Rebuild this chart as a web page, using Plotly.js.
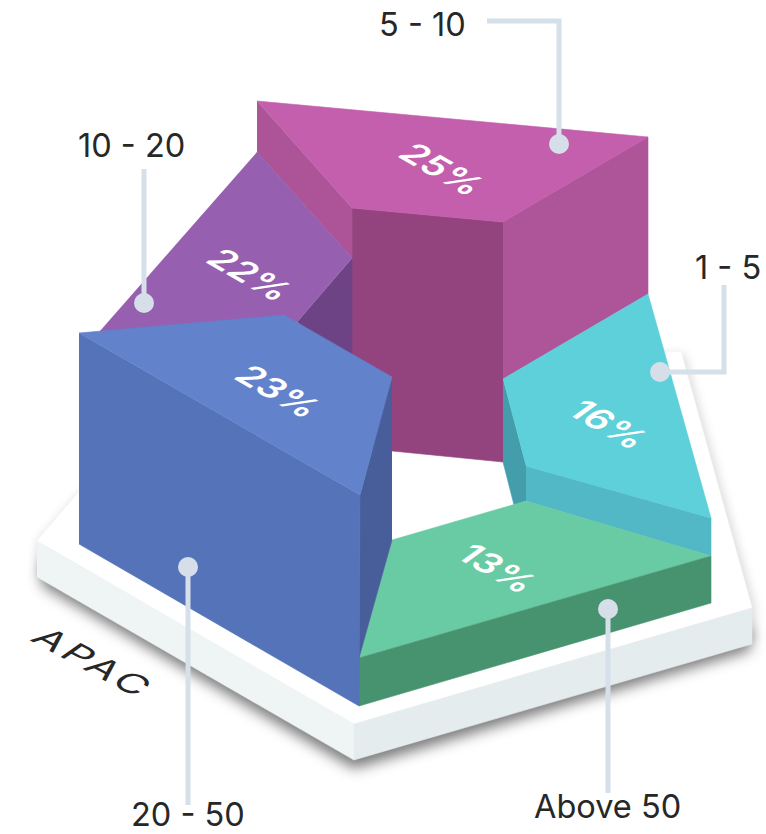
<!DOCTYPE html>
<html>
<head>
<meta charset="utf-8">
<script src="https://cdn.plot.ly/plotly-3.0.1.min.js"></script>
<style>html,body{margin:0;padding:0;background:#fff}#chart{width:766px;height:834px}</style>
</head>
<body>
<div id="chart"></div>
<script>
// Share of respondents per band, APAC region
const bands = ['1 - 5', '5 - 10', '10 - 20', '20 - 50', 'Above 50'];
const shares = [16, 25, 22, 23, 13];
const regionName = 'APAC';

// Outlines of the block faces, in chart units
const plateTopX = [37, 79, 660, 681, 752, 354, 37];
const plateTopY = [541, 492, 352, 352, 608, 724, 541];
const plateLeftX = [37, 354, 354, 37];
const plateLeftY = [541, 724, 760, 577];
const plateRightX = [354, 752, 752, 354];
const plateRightY = [724, 608, 644, 760];

// Shadow shapes that sit under the plate
const shadowBackX = [37, 79, 660, 684, 755, 755, 37];
const shadowBackY = [543, 494, 354, 354, 608, 640, 577];
const shadowLowX = [42, 354, 750, 750, 354, 42];
const shadowLowY = [560, 745, 628, 650, 768, 585];

const magentaFrontX = [352, 503, 503, 352];
const magentaFrontY = [208, 222, 462, 447];
const magentaRightX = [503, 648, 648, 503];
const magentaRightY = [222, 137, 294, 379];
const magentaLeftX = [257, 352, 352, 257];
const magentaLeftY = [101, 208, 258, 152];
const magentaTopX = [257, 648, 503, 352];
const magentaTopY = [101, 137, 222, 208];

const purpleInnerX = [352, 352, 297];
const purpleInnerY = [258, 362, 322];
const purpleTopX = [257, 352, 297, 282, 100];
const purpleTopY = [152, 258, 322, 330, 331];

const cyanInnerX = [503, 526, 526, 514, 503];
const cyanInnerY = [379, 466, 501, 505, 462];
const cyanFrontX = [526, 711, 711, 526];
const cyanFrontY = [466, 518, 556, 501];
const cyanTopX = [503, 648, 711, 526];
const cyanTopY = [379, 294, 518, 466];

const greenTopX = [359, 392, 526, 711];
const greenTopY = [658, 540, 501, 556];
const greenFrontX = [359, 711, 711, 359];
const greenFrontY = [658, 556, 603, 706];

const blueInnerX = [392, 360, 359, 392];
const blueInnerY = [377, 495, 658, 540];
const blueFrontX = [79, 360, 359, 79];
const blueFrontY = [333, 495, 706, 544];
const blueTopX = [79, 284, 392, 360];
const blueTopY = [333, 315, 377, 495];

// Leader lines and their end dots
const leaderX = {a: [487, 559, 559], b: [144, 144], c: [724, 724, 660], d: [188, 188], e: [608, 608]};
const leaderY = {a: [21, 21, 144], b: [169, 303], c: [285, 372, 372], d: [805, 567], e: [793, 609]};
const dotX = [559, 144, 660, 188, 608];
const dotY = [144, 303, 372, 567, 609];

// Text positions
const bandLabelX = [728, 422, 131, 188, 607];
const bandLabelY = [267, 24, 145, 814, 806];
const shareLabelX = [609, 443, 250, 279, 498];
const shareLabelY = [424, 169, 274, 391, 568];
const regionLabelX = 94;
const regionLabelY = 662;

const traces = [];
function face(x, y, color) {
  traces.push({type: 'scatter', mode: 'lines', x: x, y: y, fill: 'toself',
    fillcolor: color, line: {color: color, width: 0.6}, hoverinfo: 'skip', showlegend: false});
}

face(shadowBackX, shadowBackY, 'rgba(0,0,0,0.14)');
face(shadowLowX, shadowLowY, 'rgba(30,30,30,0.6)');
const softTraces = [[0, 5], [1, 7]];

face(plateTopX, plateTopY, '#ffffff');
face(plateLeftX, plateLeftY, '#eff4f4');
face(plateRightX, plateRightY, '#e5ecee');

face(magentaFrontX, magentaFrontY, '#93447f');
face(magentaRightX, magentaRightY, '#ae5498');
face(magentaLeftX, magentaLeftY, '#ad5498');
face(magentaTopX, magentaTopY, '#c35fac');
face(purpleInnerX, purpleInnerY, '#6e4385');
face(purpleTopX, purpleTopY, '#975fb0');
face(cyanInnerX, cyanInnerY, '#449dab');
face(cyanFrontX, cyanFrontY, '#52b8c5');
face(cyanTopX, cyanTopY, '#5dd0da');
face(greenTopX, greenTopY, '#69cba3');
face(greenFrontX, greenFrontY, '#47936f');
face(blueInnerX, blueInnerY, '#485e9b');
face(blueFrontX, blueFrontY, '#5473b9');
face(blueTopX, blueTopY, '#6282cb');

Object.keys(leaderX).forEach(k => {
  traces.push({type: 'scatter', mode: 'lines', x: leaderX[k], y: leaderY[k],
    line: {color: '#d6e0ea', width: 5}, hoverinfo: 'skip', showlegend: false});
});
traces.push({type: 'scatter', mode: 'markers', x: dotX, y: dotY,
  marker: {color: '#d6dfe9', size: 20, line: {width: 0}}, hoverinfo: 'skip', showlegend: false});

const font = 'Inter, "Noto Sans", sans-serif';
const annotations = [];
bands.forEach((b, i) => annotations.push({
  xref: 'x', yref: 'y', x: bandLabelX[i], y: bandLabelY[i], text: b, showarrow: false,
  xanchor: 'center', yanchor: 'middle', font: {family: font, size: 32.5, color: '#272727'}
}));
shares.forEach((v, i) => annotations.push({
  xref: 'x', yref: 'y', x: shareLabelX[i], y: shareLabelY[i], text: v + '%', showarrow: false,
  xanchor: 'center', yanchor: 'middle', font: {family: font, size: 37, weight: 600, color: '#ffffff'}
}));
annotations.push({
  xref: 'x', yref: 'y', x: regionLabelX, y: regionLabelY, text: regionName, showarrow: false,
  xanchor: 'center', yanchor: 'middle', font: {family: font, size: 42, color: '#272727'}
});

const layout = {
  width: 766, height: 834,
  margin: {l: 0, r: 0, t: 0, b: 0},
  paper_bgcolor: '#ffffff', plot_bgcolor: '#ffffff',
  xaxis: {range: [0, 766], visible: false, fixedrange: true},
  yaxis: {range: [834, 0], visible: false, fixedrange: true},
  showlegend: false,
  annotations: annotations
};

// The share labels and the region name lie flat on the isometric top faces,
// so their text groups get an axonometric matrix around their own centre.
const flatShare = [0.87, 0.5, -0.75, 0.55];
const flatRegion = [0.87, 0.47, -0.65, 0.46];
Plotly.newPlot('chart', traces, layout, {displayModeBar: false, staticPlot: true}).then(() => {
  document.querySelectorAll('#chart .annotation').forEach((g, i) => {
    if (i < bands.length) return;
    const t = g.querySelector('.annotation-text-g');
    const ann = annotations[i];
    const m = i === annotations.length - 1 ? flatRegion : flatShare;
    if (i === annotations.length - 1) t.querySelector('text').style.letterSpacing = '4px';
    t.setAttribute('transform', 'translate(' + ann.x + ',' + ann.y + ') matrix(' + m.join(',') + ',0,0) translate(' + (-ann.x) + ',' + (-ann.y) + ')');
  });
  // Blur the two shadow shapes
  const groups = document.querySelectorAll('#chart .scatterlayer .trace');
  softTraces.forEach(([idx, r]) => { groups[idx].style.filter = 'blur(' + r + 'px)'; });
});
</script>
</body>
</html>
